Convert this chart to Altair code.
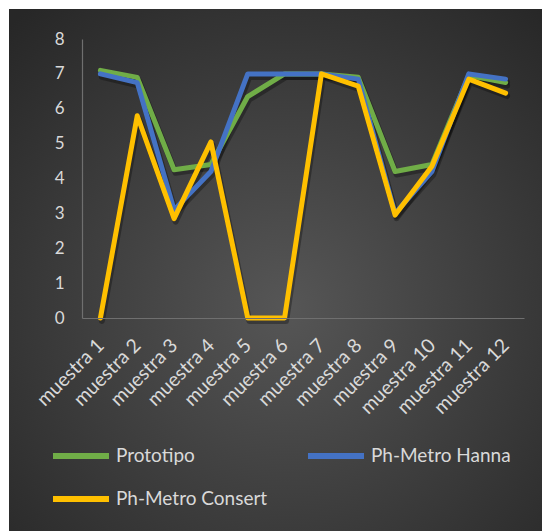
import altair as alt
import pandas as pd

muestras = ["muestra 1", "muestra 2", "muestra 3", "muestra 4", "muestra 5", "muestra 6",
            "muestra 7", "muestra 8", "muestra 9", "muestra 10", "muestra 11", "muestra 12"]
prototipo = [7.1, 6.9, 4.25, 4.4, 6.35, 7.0, 7.0, 6.9, 4.2, 4.4, 6.95, 6.75]
hanna = [7.0, 6.75, 3.1, 4.2, 7.0, 7.0, 7.0, 6.85, 3.0, 4.2, 7.0, 6.85]
consert = [0.0, 5.8, 2.85, 5.05, 0.0, 0.0, 7.0, 6.65, 2.95, 4.35, 6.85, 6.45]
series = ["Prototipo", "Ph-Metro Hanna", "Ph-Metro Consert"]
colors = ["#70AD47", "#4472C4", "#FFC000"]
y_ticks = [0, 1, 2, 3, 4, 5, 6, 7, 8]

rows = []
for name, vals in zip(series, [prototipo, hanna, consert]):
    for m, v in zip(muestras, vals):
        rows.append({"muestra": m, "serie": name, "valor": v})
df = pd.DataFrame(rows)

FONT = "Lato"
TXT = "#d9d9d9"

x = alt.X("muestra:N", sort=muestras,
          scale=alt.Scale(type="point", padding=0.5),
          axis=alt.Axis(title=None, labelAngle=-45, labelAlign="right", labelBaseline="middle",
                        labelPadding=24, labelFontSize=19.5, labelColor=TXT, labelFont=FONT,
                        ticks=False, grid=False, domainColor="#6f6f6f", domainWidth=1.2,
                        zindex=1))
y = alt.Y("valor:Q", scale=alt.Scale(domain=[0, 8], nice=False),
          axis=alt.Axis(title=None, values=y_ticks, labelFontSize=17, labelColor=TXT,
                        labelFont=FONT, labelPadding=18, ticks=False, grid=False,
                        domainColor="#6f6f6f", domainWidth=1.2, zindex=1))
color = alt.Color("serie:N", sort=series,
                  scale=alt.Scale(domain=series, range=colors),
                  legend=alt.Legend(title=None, orient="none", legendX=-32, legendY=386,
                                    direction="horizontal",
                                    columns=2, symbolType="stroke", symbolSize=3136,
                                    symbolStrokeWidth=6, labelFontSize=19, labelColor=TXT,
                                    labelFont=FONT, labelOffset=4, columnPadding=28,
                                    rowPadding=-10, padding=0))

bg = alt.Chart(pd.DataFrame({"a": [0]})).mark_rect(
    clip=False,
    fill={"gradient": "radial",
          "stops": [{"offset": 0, "color": "#565656"}, {"offset": 1, "color": "#272727"}],
          "x1": 0.52, "y1": 0.57, "r1": 0, "x2": 0.52, "y2": 0.57, "r2": 0.74},
).encode(x=alt.value(-73), x2=alt.value(460), y=alt.value(-30), y2=alt.value(492))

shadow = alt.Chart(df).mark_line(color="black", opacity=0.3, strokeWidth=6, yOffset=3,
                                 xOffset=1.5, strokeJoin="round", strokeCap="round").encode(
    x=x, y=y, detail="serie:N")

layers = [bg, shadow]
for name in series:
    layers.append(
        alt.Chart(df).transform_filter(alt.datum.serie == name)
        .mark_line(strokeWidth=5, strokeJoin="round", strokeCap="round")
        .encode(x=x, y=y, color=color)
    )

chart = alt.layer(*layers).properties(
    width=442, height=279,
    padding={"left": 82, "top": 39, "right": 18, "bottom": 213},
    autosize=alt.AutoSizeParams(type="none"),
    background="white",
).configure_view(stroke="transparent")

chart.save("out.html", embed_options={"renderer": "svg", "actions": False})
